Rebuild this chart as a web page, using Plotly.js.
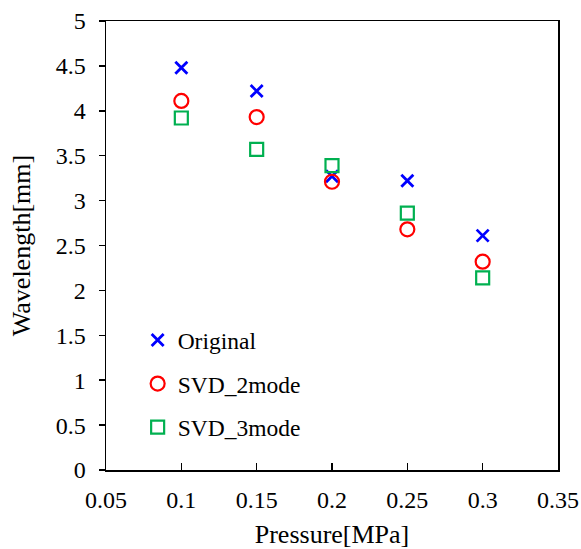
<!DOCTYPE html>
<html>
<head>
<meta charset="utf-8">
<script src="https://cdn.plot.ly/plotly-3.0.1.min.js"></script>
<style>html,body{margin:0;padding:0;background:#fff;}#chart{width:581px;height:549px;}</style>
</head>
<body>
<div id="chart"></div>
<script>
const pressure = [0.1, 0.15, 0.2, 0.25, 0.3];
const original = [4.48, 4.22, 3.27, 3.22, 2.61];
const svd2mode = [4.11, 3.93, 3.21, 2.68, 2.32];
const svd3mode = [3.92, 3.57, 3.39, 2.86, 2.14];
const xTicks = [0.05, 0.1, 0.15, 0.2, 0.25, 0.3, 0.35];
const xTickText = ['0.05', '0.1', '0.15', '0.2', '0.25', '0.3', '0.35'];
const yTicks = [0, 0.5, 1, 1.5, 2, 2.5, 3, 3.5, 4, 4.5, 5];
const yTickText = ['0', '0.5', '1', '1.5', '2', '2.5', '3', '3.5', '4', '4.5', '5'];

const font = 'Liberation Serif';

const traces = [
  {x: pressure, y: original, name: 'Original', mode: 'markers', type: 'scatter', legendgroup: 'a',
   marker: {symbol: 'x-thin-open', size: 12, color: '#0000FF', line: {color: '#0000FF', width: 2.8}}},
  {x: pressure, y: svd2mode, name: 'SVD_2mode', mode: 'markers', type: 'scatter', legendgroup: 'b',
   marker: {symbol: 'circle-open', size: 14, color: '#FF0000', line: {color: '#FF0000', width: 2.2}}},
  {x: pressure, y: svd3mode, name: 'SVD_3mode', mode: 'markers', type: 'scatter', legendgroup: 'c',
   marker: {symbol: 'square-open', size: 13, color: '#00B050', line: {color: '#00B050', width: 2.2}}}
];

const layout = {
  width: 581, height: 549,
  margin: {l: 106, r: 23, t: 21, b: 79},
  paper_bgcolor: '#fff', plot_bgcolor: '#fff',
  font: {family: font, size: 23, color: '#000'},
  showlegend: true,
  legend: {x: 0.07, y: 0.338, xanchor: 'left', yanchor: 'top', bgcolor: 'rgba(0,0,0,0)',
           font: {family: font, size: 23.5, color: '#000'}, tracegroupgap: 10, itemwidth: 30},
  xaxis: {range: [0.05, 0.35], tickvals: xTicks, ticktext: xTickText, ticks: 'inside', ticklen: 7,
          tickwidth: 1.5, tickcolor: '#000', showline: true, linecolor: '#000', linewidth: 1.5, mirror: true,
          showgrid: false, zeroline: false, fixedrange: true, ticklabelstandoff: 8,
          tickfont: {family: font, size: 24, color: '#000'},
          title: {text: 'Pressure[MPa]', font: {family: font, size: 26, color: '#000'}, standoff: 16}},
  yaxis: {range: [0, 5], tickvals: yTicks, ticktext: yTickText, ticks: 'outside', ticklen: 6,
          tickwidth: 1.5, tickcolor: '#000', showline: true, linecolor: '#000', linewidth: 1.5, mirror: true,
          showgrid: false, zeroline: false, fixedrange: true, ticklabelstandoff: 8,
          tickfont: {family: font, size: 24, color: '#000'},
          title: {text: 'Wavelength[mm]', font: {family: font, size: 26, color: '#000'}, standoff: 17}}
};

Plotly.newPlot('chart', traces, layout, {displayModeBar: false, staticPlot: true});
</script>
</body>
</html>
